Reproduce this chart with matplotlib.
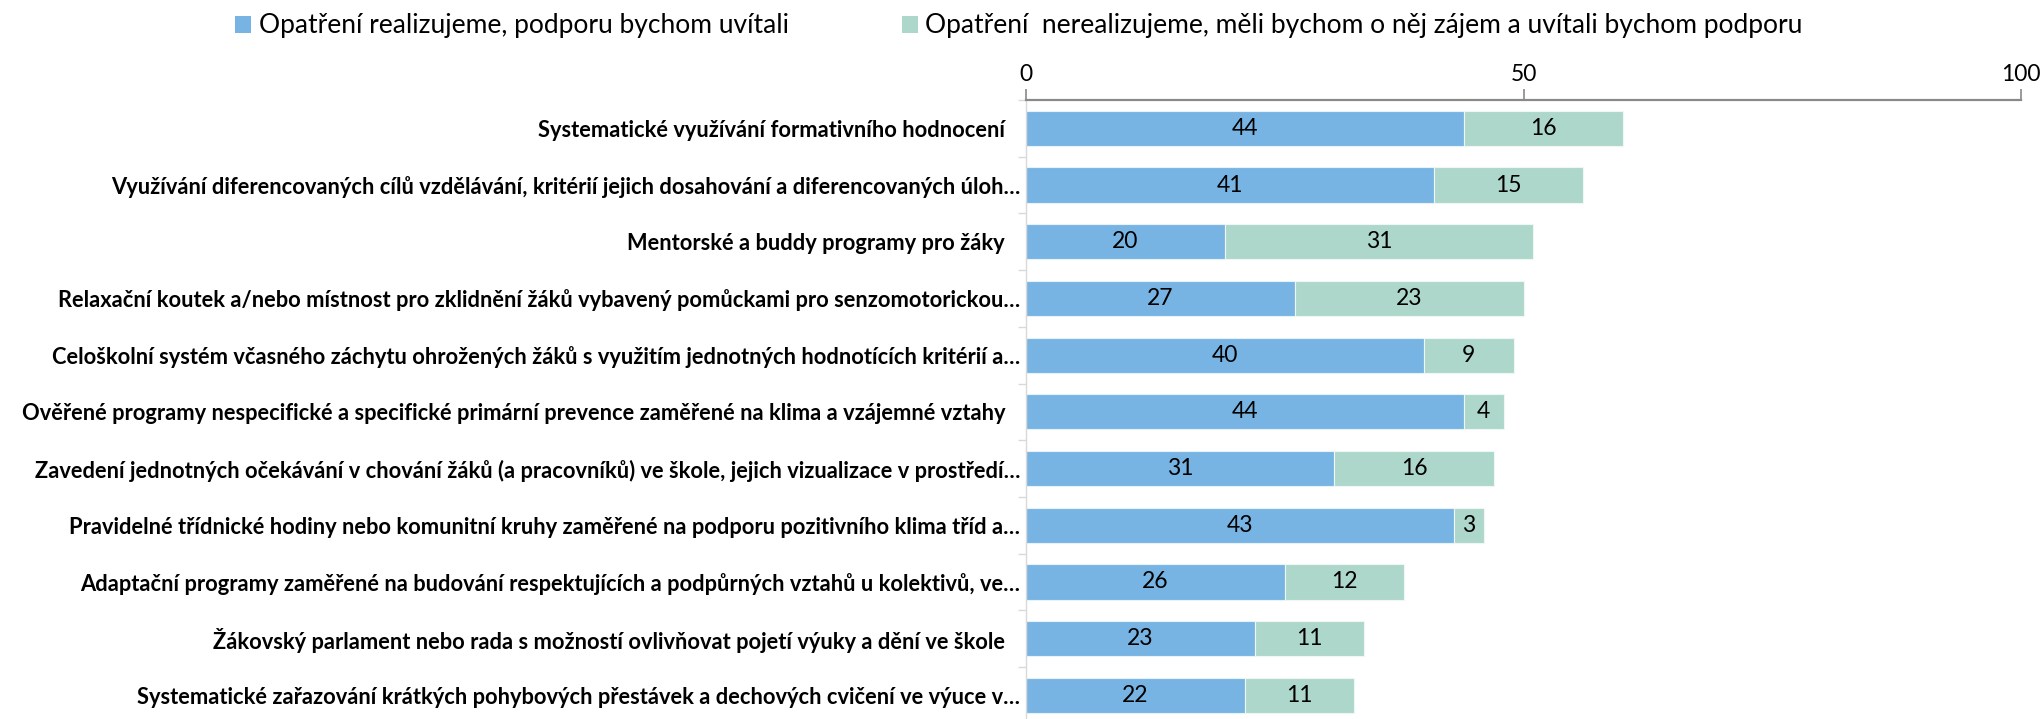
import matplotlib
matplotlib.use("Agg")
import matplotlib.pyplot as plt
from matplotlib.patches import Patch
from matplotlib.transforms import ScaledTranslation
import numpy as np

plt.rcParams['font.family'] = ['Lato', 'DejaVu Sans']

categories = [
    "Systematické využívání formativního hodnocení ",
    "Využívání diferencovaných cílů vzdělávání, kritérií jejich dosahování a diferencovaných úloh…",
    "Mentorské a buddy programy pro žáky ",
    "Relaxační koutek a/nebo místnost pro zklidnění žáků vybavený pomůckami pro senzomotorickou…",
    "Celoškolní systém včasného záchytu ohrožených žáků s využitím jednotných hodnotících kritérií a…",
    "Ověřené programy nespecifické a specifické primární prevence zaměřené na klima a vzájemné vztahy ",
    "Zavedení jednotných očekávání v chování žáků (a pracovníků) ve škole, jejich vizualizace v prostředí…",
    "Pravidelné třídnické hodiny nebo komunitní kruhy zaměřené na podporu pozitivního klima tříd a…",
    "Adaptační programy zaměřené na budování respektujících a podpůrných vztahů u kolektivů, ve…",
    "Žákovský parlament nebo rada s možností ovlivňovat pojetí výuky a dění ve škole ",
    "Systematické zařazování krátkých pohybových přestávek a dechových cvičení ve výuce v…",
]
realizujeme = [44, 41, 20, 27, 40, 44, 31, 43, 26, 23, 22]
nerealizujeme = [16, 15, 31, 23, 9, 4, 16, 3, 12, 11, 11]
series_names = [
    "Opatření realizujeme, podporu bychom uvítali",
    "Opatření  nerealizujeme, měli bychom o něj zájem a uvítali bychom podporu",
]
x_ticks = [0, 50, 100]

BLUE = "#77B4E3"
GREEN = "#AED7CB"

W, H = 2044, 719
fig = plt.figure(figsize=(W / 100, H / 100), dpi=100)
top_px, band_px = 100, 56.7
n = len(categories)
bottom_px = top_px + n * band_px
ax = fig.add_axes([1026 / W, 1 - bottom_px / H, (2021 - 1026) / W, (bottom_px - top_px) / H])

y = np.arange(n)
b1 = ax.barh(y, realizujeme, height=0.62, color=BLUE, edgecolor="#E8F2FA", linewidth=0.8)
b2 = ax.barh(y, nerealizujeme, left=realizujeme, height=0.62, color=GREEN, edgecolor="#EEF7F4", linewidth=0.8)
ax.bar_label(b1, label_type="center", fontsize=16.5, color="black")
ax.bar_label(b2, label_type="center", fontsize=16.5, color="black")

ax.set_xlim(0, 100)
ax.set_ylim(n - 0.5, -0.5)
ax.xaxis.tick_top()
ax.set_xticks(x_ticks)
ax.set_xticklabels([str(t) for t in x_ticks], fontsize=16.5)
ax.tick_params(axis="x", direction="out", length=8, width=1.2, color="#898989", pad=2.5)

ax.set_yticks(y)
ax.set_yticklabels(categories, fontsize=15.75, fontweight="bold")
ax.set_yticks(np.arange(n + 1) - 0.5, minor=True)
ax.tick_params(axis="y", which="major", length=0, pad=4)
ax.tick_params(axis="y", which="minor", length=6, width=1, color="#D9D9D9")
shift = ScaledTranslation(-10 / 100, 0, fig.dpi_scale_trans)
for lbl, cat in zip(ax.get_yticklabels(), categories):
    if cat.endswith(" "):
        lbl.set_transform(lbl.get_transform() + shift)

for s in ["right", "bottom"]:
    ax.spines[s].set_visible(False)
ax.spines["top"].set_color("#898989")
ax.spines["top"].set_linewidth(1.6)
ax.spines["left"].set_color("#D9D9D9")
ax.spines["left"].set_linewidth(1.0)

handles = [Patch(facecolor=BLUE, edgecolor="none"), Patch(facecolor=GREEN, edgecolor="none")]
fig.legend(handles, series_names, loc="center", bbox_to_anchor=(0.4985, 1 - 26 / H),
           ncol=2, frameon=False, fontsize=19, handlelength=0.6, handleheight=0.6,
           handletextpad=0.28, columnspacing=4.3, borderaxespad=0)

fig.savefig("out.png", dpi=100)
